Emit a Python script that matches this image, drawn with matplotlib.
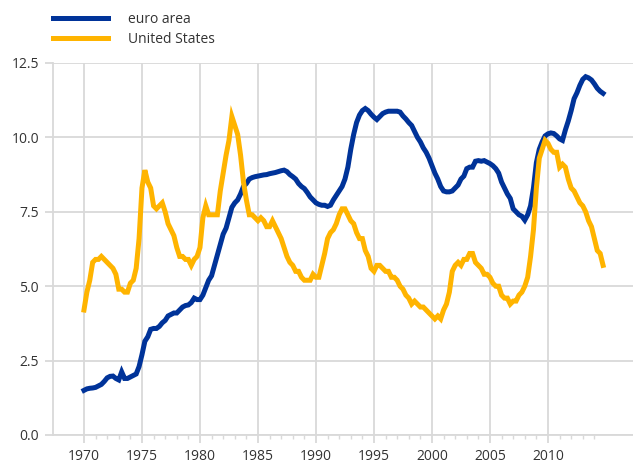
import numpy as np
import matplotlib
matplotlib.use("Agg")
import matplotlib.pyplot as plt
from matplotlib.ticker import MultipleLocator, FixedLocator

plt.rcParams['font.family'] = ['Open Sans', 'DejaVu Sans']

# quarterly unemployment rates, 1970Q1 - 2014Q4 (% of labour force)
years = np.arange(1970, 2015)
euro_area = [
    1.50, 1.55, 1.57, 1.58,   # 1970
    1.60, 1.65, 1.70, 1.80,
    1.92, 1.97, 1.98, 1.90,
    1.85, 2.12, 1.90, 1.90,
    1.95, 2.00, 2.05, 2.30,
    2.70, 3.15, 3.30, 3.55,   # 1975
    3.58, 3.58, 3.65, 3.77,
    3.85, 4.00, 4.05, 4.10,
    4.10, 4.20, 4.30, 4.35,
    4.37, 4.45, 4.60, 4.55,
    4.55, 4.70, 4.95, 5.20,   # 1980
    5.35, 5.70, 6.05, 6.40,
    6.75, 6.95, 7.30, 7.65,
    7.80, 7.90, 8.10, 8.35,
    8.45, 8.60, 8.65, 8.68,
    8.70, 8.72, 8.74, 8.75,   # 1985
    8.78, 8.80, 8.82, 8.85,
    8.88, 8.90, 8.85, 8.75,
    8.68, 8.60, 8.45, 8.35,
    8.28, 8.15, 8.00, 7.90,
    7.80, 7.75, 7.72, 7.72,   # 1990
    7.68, 7.72, 7.90, 8.05,
    8.20, 8.35, 8.60, 9.00,
    9.60, 10.10, 10.50, 10.75,
    10.90, 10.97, 10.90, 10.78,
    10.68, 10.60, 10.70, 10.80,   # 1995
    10.85, 10.88, 10.88, 10.88,
    10.88, 10.85, 10.72, 10.62,
    10.50, 10.40, 10.20, 10.00,
    9.85, 9.65, 9.50, 9.30,
    9.05, 8.80, 8.60, 8.35,   # 2000
    8.20, 8.17, 8.17, 8.20,
    8.30, 8.40, 8.60, 8.70,
    8.95, 9.00, 9.00, 9.20,
    9.22, 9.20, 9.22, 9.17,
    9.12, 9.05, 8.95, 8.80,   # 2005
    8.50, 8.30, 8.10, 7.95,
    7.60, 7.50, 7.40, 7.35,
    7.22, 7.40, 7.70, 8.30,
    9.15, 9.60, 9.85, 10.05,
    10.12, 10.15, 10.13, 10.05,   # 2010
    9.95, 9.90, 10.25, 10.55,
    10.90, 11.30, 11.50, 11.75,
    11.95, 12.04, 12.00, 11.93,
    11.80, 11.65, 11.55, 11.48,
]
united_states = [
    4.2, 4.8, 5.2, 5.8,   # 1970
    5.9, 5.9, 6.0, 5.9,
    5.8, 5.7, 5.6, 5.4,
    4.9, 4.9, 4.8, 4.8,
    5.1, 5.2, 5.6, 6.6,
    8.3, 8.9, 8.5, 8.3,   # 1975
    7.7, 7.6, 7.7, 7.8,
    7.5, 7.1, 6.9, 6.7,
    6.3, 6.0, 6.0, 5.9,
    5.9, 5.7, 5.9, 6.0,
    6.3, 7.3, 7.7, 7.4,   # 1980
    7.4, 7.4, 7.4, 8.2,
    8.8, 9.4, 9.9, 10.7,
    10.4, 10.1, 9.4, 8.5,
    7.9, 7.4, 7.4, 7.3,
    7.2, 7.3, 7.2, 7.0,   # 1985
    7.0, 7.2, 7.0, 6.8,
    6.6, 6.3, 6.0, 5.8,
    5.7, 5.5, 5.5, 5.3,
    5.2, 5.2, 5.2, 5.4,
    5.3, 5.3, 5.7, 6.1,   # 1990
    6.6, 6.8, 6.9, 7.1,
    7.4, 7.6, 7.6, 7.4,
    7.2, 7.1, 6.8, 6.6,
    6.6, 6.2, 6.0, 5.6,
    5.5, 5.7, 5.7, 5.6,   # 1995
    5.5, 5.5, 5.3, 5.3,
    5.2, 5.0, 4.9, 4.7,
    4.6, 4.4, 4.5, 4.4,
    4.3, 4.3, 4.2, 4.1,
    4.0, 3.9, 4.0, 3.9,   # 2000
    4.2, 4.4, 4.8, 5.5,
    5.7, 5.8, 5.7, 5.9,
    5.9, 6.1, 6.1, 5.8,
    5.7, 5.6, 5.4, 5.4,
    5.3, 5.1, 5.0, 5.0,   # 2005
    4.7, 4.6, 4.6, 4.4,
    4.5, 4.5, 4.7, 4.8,
    5.0, 5.3, 6.0, 6.9,
    8.3, 9.3, 9.6, 9.9,
    9.8, 9.6, 9.5, 9.5,   # 2010
    9.0, 9.1, 9.0, 8.6,
    8.3, 8.2, 8.0, 7.8,
    7.7, 7.5, 7.2, 7.0,
    6.6, 6.2, 6.1, 5.7,
]
quarters = np.repeat(years, 4) + np.tile([0, 0.25, 0.5, 0.75], len(years))

blue = '#003399'
yellow = '#ffb400'
grid = '#d9d9d9'
txt = '#333333'

fig = plt.figure(figsize=(6.33, 4.74), dpi=100)
ax = fig.add_axes([53/633, 39/474, 580/633, 372/474])

ax.plot(quarters, euro_area, color=blue, lw=3.6, label='euro area', solid_joinstyle='miter')
ax.plot(quarters, united_states, color=yellow, lw=3.6, label='United States', solid_joinstyle='miter')

ax.set_xlim(1967.33, 2017.33)
ax.set_ylim(0, 12.5)
ax.yaxis.set_major_locator(MultipleLocator(2.5))
ax.yaxis.set_major_formatter(matplotlib.ticker.FormatStrFormatter('%.1f'))
ax.xaxis.set_major_locator(FixedLocator(np.arange(1970, 2011, 5)))
ax.xaxis.set_minor_locator(FixedLocator([y for y in range(1970, 2015) if y % 5]))

ax.grid(True, which='major', color=grid, lw=1.3)
ax.set_axisbelow(True)
for s in ['top', 'right']:
    ax.spines[s].set_visible(False)
for s in ['left', 'bottom']:
    ax.spines[s].set_color(grid)
    ax.spines[s].set_linewidth(1.3)

ax.tick_params(axis='both', which='major', color=grid, width=1.3, length=6,
               labelsize=10, labelcolor=txt, pad=4)
ax.tick_params(axis='x', which='minor', color=grid, width=1.0, length=3)

fig.legend(loc='upper left', bbox_to_anchor=(53/633, 1 - 12/474), frameon=False,
           fontsize=10, handlelength=3.95, handletextpad=1.45, labelspacing=0.35,
           borderpad=0, borderaxespad=0, labelcolor=txt)

fig.savefig('out.png', dpi=100)
